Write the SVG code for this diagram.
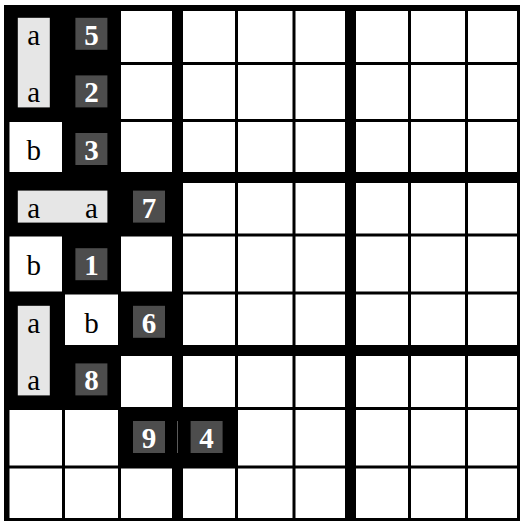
<svg xmlns="http://www.w3.org/2000/svg" width="520" height="521" viewBox="0 0 520 521">
  <style>
    .bg { fill: #ffffff; }
    .blk { fill: #000000; }
    .thin { fill: #000000; }
    .grey { fill: #e6e6e6; }
    .num { fill: #4d4d4d; }
    .lt { font-family: "Liberation Serif", "Times New Roman", Times, serif; font-size: 29px; fill: #000000; text-anchor: middle; }
    .dg { font-family: "Liberation Serif", "Times New Roman", Times, serif; font-size: 29px; font-weight: bold; fill: #ffffff; text-anchor: middle; }
  </style>
  <rect class="bg" x="0" y="0" width="520" height="521"/>

  <!-- black (shaded) cells -->
  <g id="shaded">
    <rect class="blk" x="7" y="8" width="112.5" height="112.5"/>
    <rect class="blk" x="63.5" y="120.5" width="56" height="57"/>
    <rect class="blk" x="7" y="177.5" width="170.5" height="57.5"/>
    <rect class="blk" x="63.5" y="235" width="56" height="58"/>
    <rect class="blk" x="7" y="293" width="56.5" height="57.5"/>
    <rect class="blk" x="119.5" y="293" width="58" height="57.5"/>
    <rect class="blk" x="7" y="350.5" width="112.5" height="58"/>
    <rect class="blk" x="119.5" y="408.5" width="117" height="58.5"/>
  </g>

  <!-- grid lines -->
  <g id="grid">
    <rect class="thin" x="4" y="5" width="5.5" height="516"/>
    <rect class="thin" x="4" y="5" width="516" height="6"/>
    <rect class="thin" x="517" y="5" width="3" height="516"/>
    <rect class="thin" x="4" y="518" width="516" height="3"/>
    <rect class="thin" x="62" y="5" width="3" height="516"/>
    <rect class="thin" x="118" y="5" width="3" height="516"/>
    <rect class="thin" x="235" y="5" width="3" height="516"/>
    <rect class="thin" x="292.5" y="5" width="3" height="516"/>
    <rect class="thin" x="408" y="5" width="3" height="516"/>
    <rect class="thin" x="465" y="5" width="3" height="516"/>
    <rect class="thin" x="172" y="5" width="11" height="516"/>
    <rect class="thin" x="345" y="5" width="11" height="516"/>
    <rect class="thin" x="4" y="62" width="516" height="3"/>
    <rect class="thin" x="4" y="119" width="516" height="3"/>
    <rect class="thin" x="4" y="233.5" width="516" height="3"/>
    <rect class="thin" x="4" y="291.5" width="516" height="3"/>
    <rect class="thin" x="4" y="407" width="516" height="3"/>
    <rect class="thin" x="4" y="465.5" width="516" height="3"/>
    <rect class="thin" x="4" y="172" width="516" height="11"/>
    <rect class="thin" x="4" y="345" width="516" height="11"/>
  </g>

  <!-- merged light grey boxes -->
  <g id="word-r1r2">
    <rect class="grey" x="17.8" y="17.8" width="32" height="89.6"/>
    <text class="lt" x="33.8" y="44.8">a</text>
    <text class="lt" x="33.8" y="102.4">a</text>
  </g>
  <g id="word-r4">
    <rect class="grey" x="17.8" y="190.6" width="89.6" height="32"/>
    <text class="lt" x="33.8" y="217.6">a</text>
    <text class="lt" x="91.4" y="217.6">a</text>
  </g>
  <g id="word-r6r7">
    <rect class="grey" x="17.8" y="305.8" width="32" height="89.6"/>
    <text class="lt" x="33.8" y="332.8">a</text>
    <text class="lt" x="33.8" y="390.4">a</text>
  </g>

  <!-- white letter cells -->
  <g id="cell-r3c1"><text class="lt" x="33.8" y="160">b</text></g>
  <g id="cell-r5c1"><text class="lt" x="33.8" y="275.2">b</text></g>
  <g id="cell-r6c2"><text class="lt" x="91.4" y="332.8">b</text></g>

  <!-- numbered boxes -->
  <g id="num-5"><rect class="num" x="75.4" y="17.8" width="32" height="32"/><text class="dg" x="91.4" y="44.8">5</text></g>
  <g id="num-2"><rect class="num" x="75.4" y="75.4" width="32" height="32"/><text class="dg" x="91.4" y="102.4">2</text></g>
  <g id="num-3"><rect class="num" x="75.4" y="133" width="32" height="32"/><text class="dg" x="91.4" y="160">3</text></g>
  <g id="num-7"><rect class="num" x="133" y="190.6" width="32" height="32"/><text class="dg" x="149" y="217.6">7</text></g>
  <g id="num-1"><rect class="num" x="75.4" y="248.2" width="32" height="32"/><text class="dg" x="91.4" y="275.2">1</text></g>
  <g id="num-6"><rect class="num" x="133" y="305.8" width="32" height="32"/><text class="dg" x="149" y="332.8">6</text></g>
  <g id="num-8"><rect class="num" x="75.4" y="363.4" width="32" height="32"/><text class="dg" x="91.4" y="390.4">8</text></g>
  <g id="num-9"><rect class="num" x="133" y="421" width="32" height="32"/><text class="dg" x="149" y="448">9</text></g>
  <g id="num-4"><rect class="num" x="190.6" y="421" width="32" height="32"/><text class="dg" x="206.6" y="448">4</text></g>
  <g id="connectors">
    <line x1="177.5" y1="421" x2="177.5" y2="453" stroke="#5a5a5a" stroke-width="1"/>
  </g>
</svg>
